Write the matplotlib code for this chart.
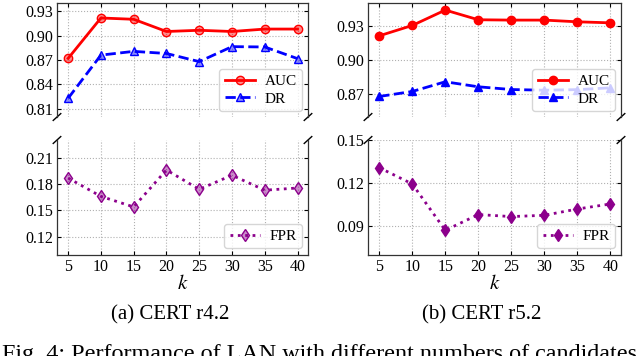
import matplotlib
matplotlib.use("Agg")
import matplotlib.pyplot as plt

plt.rcParams['font.family'] = ['Liberation Serif', 'DejaVu Serif']
plt.rcParams['mathtext.fontset'] = 'stix'

k = [5, 10, 15, 20, 25, 30, 35, 40]

auc_r42 = [0.872, 0.9216, 0.920, 0.905, 0.9065, 0.905, 0.908, 0.908]
dr_r42 = [0.823, 0.876, 0.8806, 0.878, 0.868, 0.8864, 0.886, 0.8717]
fpr_r42 = [0.1868, 0.166, 0.154, 0.196, 0.174, 0.190, 0.173, 0.1755]

auc_r52 = [0.9212, 0.9303, 0.9438, 0.9353, 0.935, 0.935, 0.9335, 0.9326]
dr_r52 = [0.868, 0.8724, 0.8809, 0.8765, 0.8741, 0.8735, 0.874, 0.8756]
fpr_r52 = [0.1307, 0.1193, 0.0869, 0.0979, 0.0965, 0.0974, 0.1018, 0.1053]

top_ticks_r42 = [0.81, 0.84, 0.87, 0.90, 0.93]
bot_ticks_r42 = [0.12, 0.15, 0.18, 0.21]
top_ticks_r52 = [0.87, 0.90, 0.93]
bot_ticks_r52 = [0.09, 0.12, 0.15]

captions = ["(a) CERT r4.2", "(b) CERT r5.2"]
fig_caption = "Fig. 4: Performance of LAN with different numbers of candidates"

W, H = 640, 356
fig = plt.figure(figsize=(W / 100, H / 100), dpi=100)


def frac(x0, y0, x1, y1):
    return [x0 / W, 1 - y1 / H, (x1 - x0) / W, (y1 - y0) / H]


panels = [
    dict(x0=57, x1=308, auc=auc_r42, dr=dr_r42, fpr=fpr_r42,
         tl=(0.80, 0.94), bl=(0.10, 0.23), tt=top_ticks_r42, bt=bot_ticks_r42,
         alpha=0.45, cap=captions[0]),
    dict(x0=368, x1=621, auc=auc_r52, dr=dr_r52, fpr=fpr_r52,
         tl=(0.85, 0.95), bl=(0.07, 0.15), tt=top_ticks_r52, bt=bot_ticks_r52,
         alpha=1.0, cap=captions[1]),
]

for p in panels:
    axt = fig.add_axes(frac(p['x0'], 3, p['x1'], 117))
    axb = fig.add_axes(frac(p['x0'], 140, p['x1'], 254.5))
    red = (1, 0, 0, p['alpha'])
    blue = (0, 0, 1, p['alpha'])
    purple = (0.55, 0, 0.55, p['alpha'])
    axt.plot(k, p['auc'], color='red', lw=2, marker='o', ms=6,
             mfc=red, mec='red', label='AUC', zorder=3)
    axt.plot(k, p['dr'], color='blue', lw=2, ls='--', marker='^', ms=6,
             mfc=blue, mec='blue', label='DR', zorder=3)
    axb.plot(k, p['fpr'], color=(0.55, 0, 0.55), lw=2, ls=':', marker='d', ms=6,
             mfc=purple, mec=(0.55, 0, 0.55), label='FPR', zorder=3)
    for ax in (axt, axb):
        ax.set_xlim(3.3, 41.6)
        ax.set_xticks(k)
        ax.grid(True, color='#b0b0b0', ls=':', lw=0.8)
        ax.tick_params(direction='in', top=True, right=True, labelsize=11.5,
                       length=3, width=0.8, pad=3)
        for s in ax.spines.values():
            s.set_linewidth(0.9)
            s.set_color('#333333')
    axt.set_ylim(*p['tl'])
    axt.set_yticks(p['tt'])
    axt.set_yticklabels([f"{v:.2f}" for v in p['tt']])
    axb.set_ylim(*p['bl'])
    axb.set_yticks(p['bt'])
    axb.set_yticklabels([f"{v:.2f}" for v in p['bt']])
    axt.spines['bottom'].set_visible(False)
    axb.spines['top'].set_visible(False)
    axt.tick_params(labelbottom=False, bottom=False)
    axb.tick_params(top=False)
    axb.set_xlabel('$k$', fontsize=15, labelpad=0)
    lt = axt.legend(loc='lower right', fontsize=11, framealpha=0.8,
                    handlelength=2.0, borderpad=0.35, labelspacing=0.25,
                    handletextpad=0.6, borderaxespad=0.4)
    lt.set_zorder(5)
    lb = axb.legend(loc='lower right', fontsize=11, framealpha=0.8,
                    handlelength=2.0, borderpad=0.35, handletextpad=0.6,
                    borderaxespad=0.4)
    lb.set_zorder(5)
    # break marks
    d = 0.015
    kw = dict(color='k', clip_on=False, lw=1)
    axt.plot((-d, +d), (-d * 2, +d * 2), transform=axt.transAxes, **kw)
    axt.plot((1 - d, 1 + d), (-d * 2, +d * 2), transform=axt.transAxes, **kw)
    axb.plot((-d, +d), (1 - d * 2, 1 + d * 2), transform=axb.transAxes, **kw)
    axb.plot((1 - d, 1 + d), (1 - d * 2, 1 + d * 2), transform=axb.transAxes, **kw)
    cx = (p['x0'] + p['x1']) / 2 / W
    fig.text(cx - 0.02, 1 - 315 / H, p['cap'], ha='center', va='center', fontsize=15)

fig.text(2 / W, 1 - 344 / H, fig_caption, ha='left', va='top', fontsize=17.4)

fig.savefig('out.png', dpi=100)
